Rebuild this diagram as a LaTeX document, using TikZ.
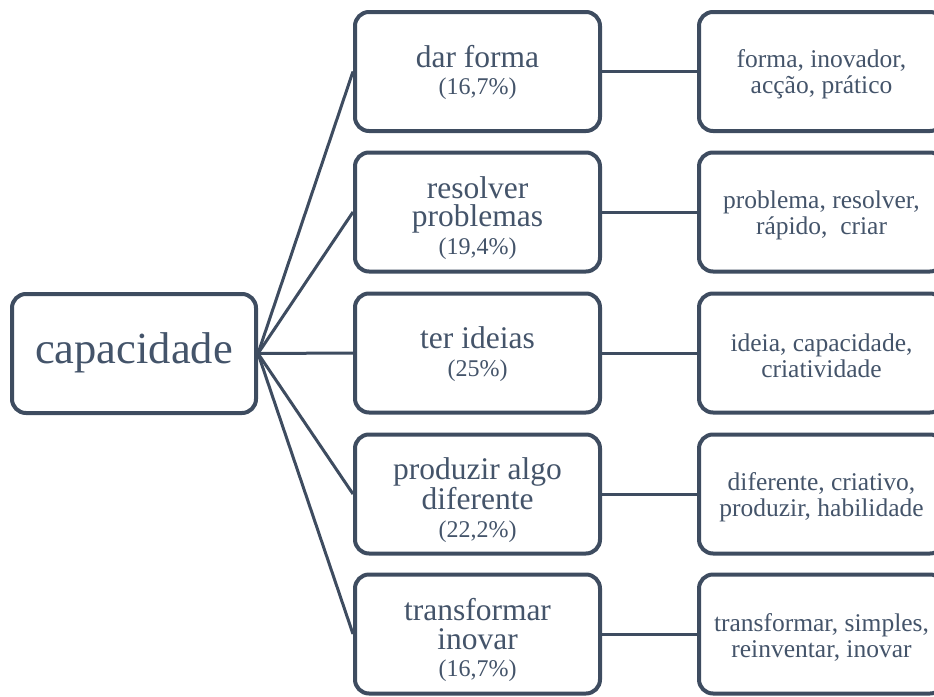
\documentclass[tikz,border=0pt]{standalone}
\usepackage{fontspec}
\setmainfont{Liberation Serif}
\definecolor{linec}{HTML}{3E4C60}
\definecolor{textc}{HTML}{44546A}
\begin{document}
\begin{tikzpicture}[x=1pt,y=-1pt,
  box/.style={draw=linec, line width=4pt, rounded corners=14pt, fill=white,
    minimum width=245pt, minimum height=119pt, inner sep=0pt},
  txt/.style={align=center, text=textc, inner sep=0pt},
  big/.style={txt, font=\fontsize{44.5}{50}\selectfont},
  mid/.style={txt, font=\fontsize{31.5}{28.5}\selectfont},
  rgt/.style={txt, font=\fontsize{25.5}{26}\selectfont},
  conn/.style={draw=linec, line width=3pt}]
\useasboundingbox (0,0) rectangle (934,696);
\clip (0,0) rectangle (934,696);
\newcommand{\pct}[1]{\\[-1pt]{\fontsize{24}{26}\selectfont #1}}
% boxes
\node[box, minimum width=244pt] (c) at (134,353.5) {};
\node[box] (m1) at (477.5,71.5) {};
\node[box] (m2) at (477.5,212) {};
\node[box] (m3) at (477.5,353) {};
\node[box] (m4) at (477.5,494) {};
\node[box] (m5) at (477.5,634) {};
\node[box] (r1) at (821.5,71.5) {};
\node[box] (r2) at (821.5,212) {};
\node[box] (r3) at (821.5,353) {};
\node[box] (r4) at (821.5,494) {};
\node[box] (r5) at (821.5,634) {};
% texts
\node[big] (tc) at ([yshift=1pt]c.center) {capacidade};
\node[mid] (tm1) at ([yshift=-1pt]m1.center) {dar forma\pct{(16,7\%)}};
\node[mid] (tm2) at ([yshift=-6pt]m2.center) {resolver\\problemas\pct{(19,4\%)}};
\node[mid] (tm3) at ([yshift=-1pt]m3.center) {ter ideias\pct{(25\%)}};
\node[mid] (tm4) at ([yshift=-6pt]m4.center) {produzir algo\\diferente\pct{(22,2\%)}};
\node[mid] (tm5) at ([yshift=-6pt]m5.center) {transformar\\inovar\pct{(16,7\%)}};
\node[rgt] (tr1) at ([yshift=-3pt]r1.center) {forma, inovador,\\acção, prático};
\node[rgt] (tr2) at ([yshift=-3pt]r2.center) {problema, resolver,\\rápido,\ \ criar};
\node[rgt] (tr3) at ([yshift=-3pt]r3.center) {ideia, capacidade,\\criatividade};
\node[rgt] (tr4) at ([yshift=-3pt]r4.center) {diferente, criativo,\\produzir, habilidade};
\node[rgt] (tr5) at ([yshift=-3pt]r5.center) {transformar, simples,\\reinventar, inovar};
% connectors
\foreach \i in {1,...,5}{
  \draw[conn] (c.east) -- (m\i.west);
  \draw[conn] (m\i.east) -- (r\i.west);
}
\end{tikzpicture}
\end{document}
